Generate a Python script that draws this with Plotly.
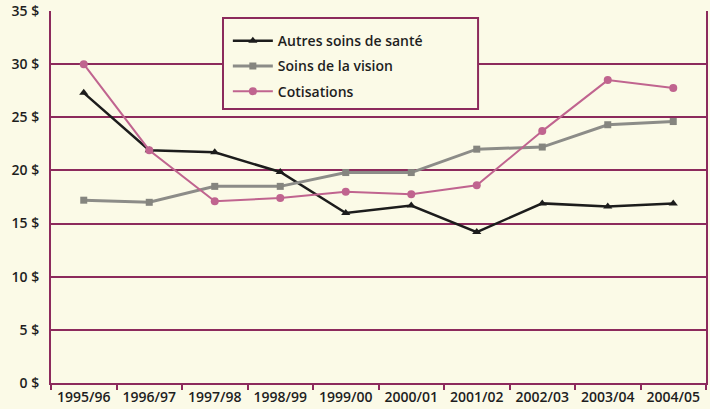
import plotly.graph_objects as go

categories = ["1995/96", "1996/97", "1997/98", "1998/99", "1999/00",
              "2000/01", "2001/02", "2002/03", "2003/04", "2004/05"]
autres = [27.3, 21.9, 21.7, 19.85, 16.0, 16.7, 14.2, 16.9, 16.6, 16.9]
vision = [17.2, 17.0, 18.5, 18.5, 19.8, 19.8, 22.0, 22.2, 24.3, 24.6]
cotisations = [30.0, 21.9, 17.1, 17.4, 18.0, 17.75, 18.6, 23.7, 28.5, 27.75]
y_ticks = [0, 5, 10, 15, 20, 25, 30, 35]
y_labels = [f"{v} $" for v in y_ticks]

grid_col = "#8c2a5c"
bg = "#fbfae7"
font = "Open Sans"
txt = "#1e1e1e"

fig = go.Figure()
fig.add_trace(go.Scatter(x=categories, y=autres, name="Autres soins de santé",
                         mode="lines+markers", legendgroup="a",
                         line=dict(color="#1c1c1c", width=2.5),
                         marker=dict(symbol="triangle-up", size=8, color="#1c1c1c")))
fig.add_trace(go.Scatter(x=categories, y=vision, name="Soins de la vision",
                         mode="lines+markers", legendgroup="b",
                         line=dict(color="#8c8c88", width=3),
                         marker=dict(symbol="square", size=7, color="#85857f")))
fig.add_trace(go.Scatter(x=categories, y=cotisations, name="Cotisations",
                         mode="lines+markers", legendgroup="c",
                         line=dict(color="#c0648f", width=2),
                         marker=dict(symbol="circle", size=8, color="#c0648f")))

# legend frame
fig.add_shape(type="rect", xref="paper", yref="paper",
              x0=0.2626, x1=0.652, y0=0.7366, y1=0.981,
              line=dict(color=grid_col, width=2), fillcolor=bg, layer="above")

fig.update_layout(
    width=710, height=409,
    margin=dict(l=51, r=4, t=11, b=26),
    paper_bgcolor=bg, plot_bgcolor=bg,
    font=dict(family=font, color=txt, size=13),
    showlegend=True,
    legend=dict(x=0.27, y=0.962, xanchor="left", yanchor="top",
                bgcolor="rgba(0,0,0,0)", borderwidth=0,
                font=dict(size=14, family=font, color=txt, weight=600),
                tracegroupgap=4, itemwidth=40),
    xaxis=dict(type="category", showgrid=False, showline=True,
               linecolor=grid_col, linewidth=2, automargin=False,
               ticks="outside", tickson="boundaries", ticklen=5,
               tickcolor=grid_col, tickwidth=2, tickangle=0,
               tickfont=dict(size=14, family=font, color=txt, weight=600),
               range=[-0.5, 9.5]),
    yaxis=dict(range=[0, 35], tickvals=y_ticks, ticktext=y_labels,
               showgrid=True, gridcolor=grid_col, gridwidth=2,
               showline=True, mirror=True, linecolor=grid_col, linewidth=2,
               zeroline=False, ticks="", ticklabelstandoff=7, automargin=False,
               tickfont=dict(size=14, family=font, color=txt, weight=600)),
)

fig.write_html("out.html", config={"displayModeBar": False},
               post_script="document.body.style.margin='0';document.body.style.background='%s';" % bg)
